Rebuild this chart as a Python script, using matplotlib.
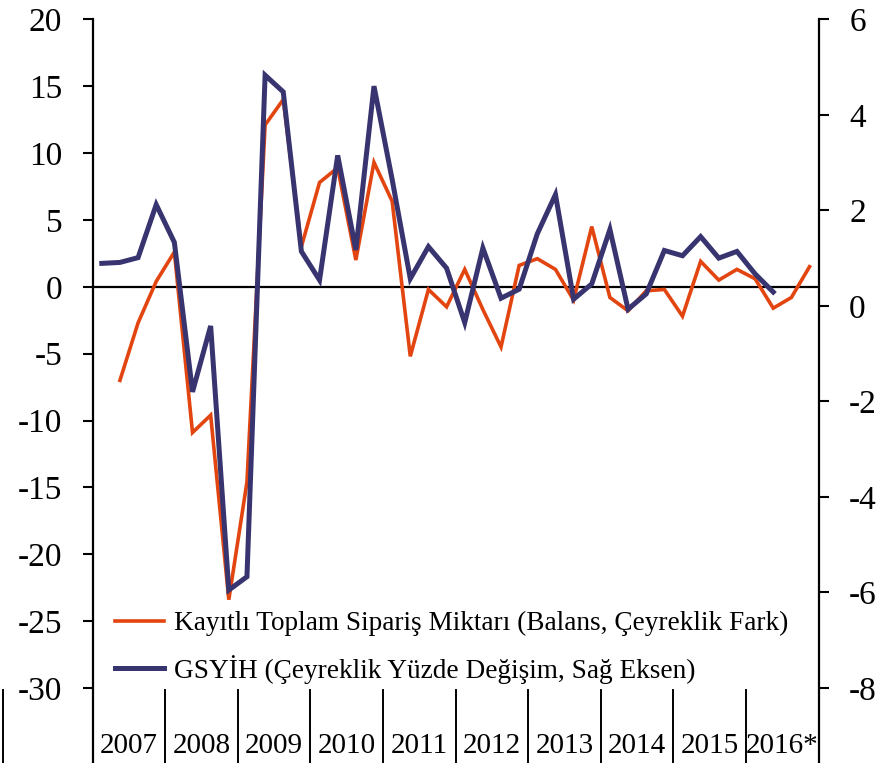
import matplotlib
matplotlib.use("Agg")
import matplotlib.pyplot as plt
from matplotlib.lines import Line2D

plt.rcParams["axes.unicode_minus"] = False

years = ["2007", "2008", "2009", "2010", "2011", "2012", "2013", "2014", "2015", "2016*"]

# Kayıtlı Toplam Sipariş Miktarı: 2007Q2 .. 2016Q4 (left axis)
orders = [-7.0, -2.7, 0.4, 2.6, -10.9, -9.6, -23.4, -14.6, 12.1, 14.0,
          3.0, 7.8, 8.9, 2.0, 9.3, 6.4, -5.2, -0.2, -1.5, 1.3,
          -1.7, -4.5, 1.6, 2.1, 1.3, -1.0, 4.5, -0.8, -1.8, -0.3,
          -0.2, -2.2, 1.9, 0.5, 1.3, 0.6, -1.6, -0.8, 1.5]
orders_start = 1

# GSYİH quarterly % change: 2007Q1 .. 2016Q2 (right axis)
gdp = [0.89, 0.91, 1.01, 2.12, 1.33, -1.80, -0.42, -5.95, -5.67, 4.83,
       4.48, 1.14, 0.54, 3.15, 1.17, 4.60, 2.65, 0.57, 1.24, 0.79,
       -0.35, 1.21, 0.16, 0.35, 1.51, 2.33, 0.14, 0.46, 1.60, -0.07,
       0.25, 1.16, 1.05, 1.45, 1.00, 1.14, 0.67, 0.29]
gdp_start = 0

label_orders = "Kayıtlı Toplam Sipariş Miktarı (Balans, Çeyreklik Fark)"
label_gdp = "GSYİH (Çeyreklik Yüzde Değişim, Sağ Eksen)"

ORANGE = "#E2450F"
NAVY = "#383470"
FONT = "Liberation Serif"

W, H = 896, 763
fig = plt.figure(figsize=(W / 100, H / 100), dpi=100)
L, R, T, B = 92.7, 818.6, 19.3, 688.0
ax = fig.add_axes([L / W, 1 - B / H, (R - L) / W, (B - T) / H])
ax2 = ax.twinx()

n_q = 4 * len(years)
xo = list(range(orders_start, orders_start + len(orders)))
xg = list(range(gdp_start, gdp_start + len(gdp)))

ax.plot(xo, orders, color=ORANGE, lw=2.6, solid_joinstyle="miter", zorder=3)
ax2.plot(xg, gdp, color=NAVY, lw=3.6, solid_joinstyle="miter", zorder=3)

ax.set_xlim(-0.5, n_q - 0.5)
ax.set_ylim(-30, 20)
ax2.set_ylim(-8, 6)
ax.set_yticks(range(-30, 21, 5))
ax2.set_yticks(range(-8, 7, 2))
ax.set_xticks([])
ax.axhline(0, color="black", lw=1.6, zorder=2)

for a in (ax, ax2):
    for s in a.spines.values():
        s.set_visible(False)
    a.tick_params(axis="y", direction="out", length=7.5, width=1.5, colors="black",
                  labelsize=24, pad=14.5)
    for lab in a.get_yticklabels():
        lab.set_family(FONT)

ax.tick_params(axis="y", left=True, right=False)
ax2.tick_params(axis="y", left=False, right=True)

ax.patch.set_alpha(0)
# Vertical axis lines extended down to bottom
ybot = -(H - B) / (B - T)
for xx in [-0.5, n_q - 0.5]:
    ax.add_line(Line2D([xx, xx], [ybot, 1], transform=ax.get_xaxis_transform(),
                       color="black", lw=1.6, clip_on=False))
for k in range(1, len(years)):
    xx = -0.5 + 4 * k
    ax.add_line(Line2D([xx, xx], [ybot, -2 / (B - T)], transform=ax.get_xaxis_transform(),
                       color="black", lw=1.4, clip_on=False))
# far-left border line
fig.add_artist(Line2D([3 / W, 3 / W], [0, (H - 690) / H], color="black", lw=1.4))

for k, yl in enumerate(years):
    ax.text(-0.5 + 4 * k + 2, -(746 - B) / (B - T), yl, transform=ax.get_xaxis_transform(),
            ha="center", va="center", fontsize=21, family=FONT)

handles = [Line2D([], [], color=ORANGE, lw=2.6), Line2D([], [], color=NAVY, lw=3.6)]
leg = fig.legend(handles, [label_orders, label_gdp], loc="upper left",
                 bbox_to_anchor=(115 / W, 1 - 611 / H), frameon=False,
                 prop={"family": FONT, "size": 19.6}, handlelength=1.8,
                 handletextpad=0.38, labelspacing=0.68, borderpad=0, borderaxespad=0)

fig.savefig("out.png", dpi=100)
